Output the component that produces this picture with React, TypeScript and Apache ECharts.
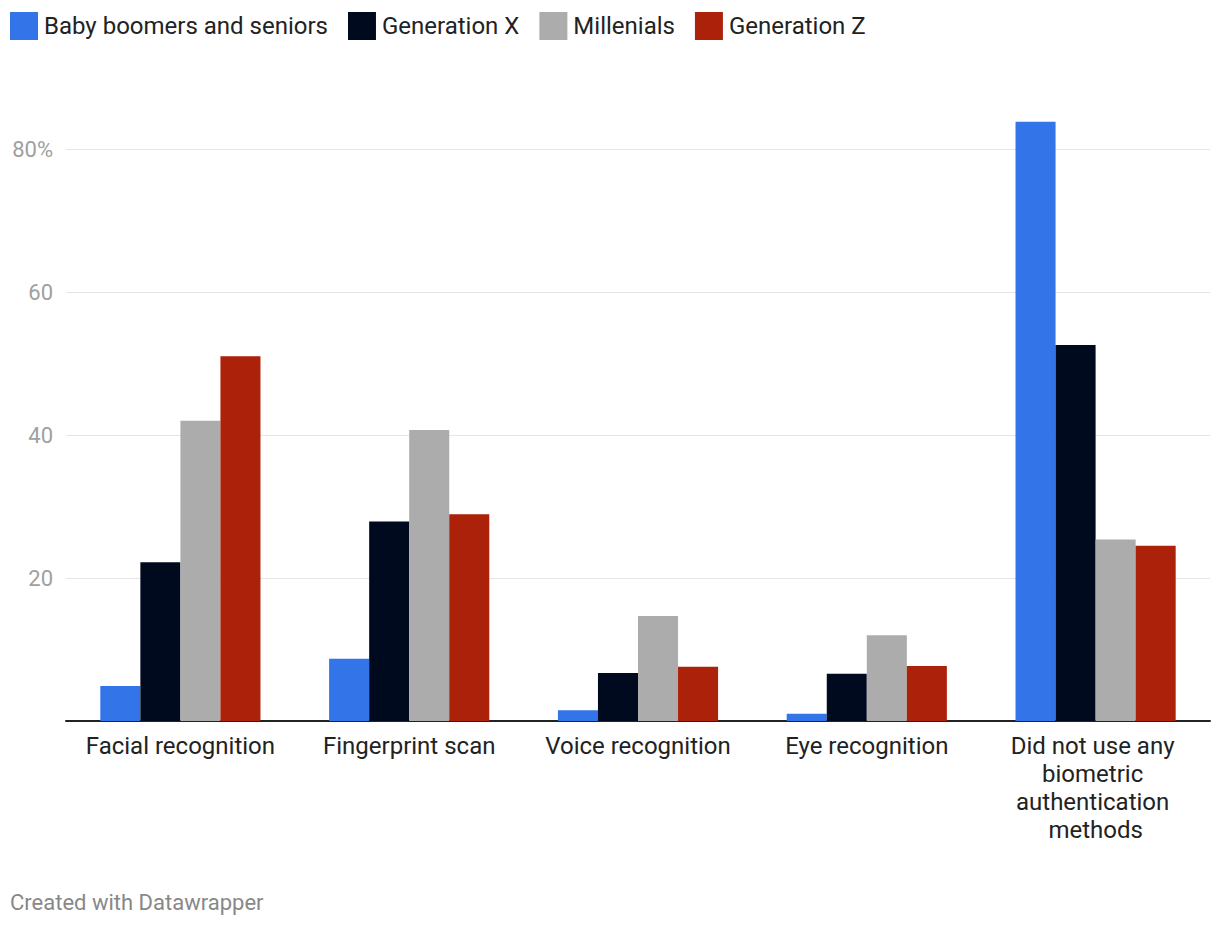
import React, { useEffect, useRef } from "react";
import * as echarts from "echarts";

const categories = [
  "Facial recognition",
  "Fingerprint scan",
  "Voice recognition",
  "Eye recognition",
  "Did not use any biometric authentication methods",
];
const seriesNames = ["Baby boomers and seniors", "Generation X", "Millenials", "Generation Z"];
const babyBoomers = [4.9, 8.7, 1.5, 1.0, 83.8];
const generationX = [22.2, 27.9, 6.7, 6.6, 52.6];
const millenials = [42.0, 40.7, 14.7, 12.0, 25.4];
const generationZ = [51.0, 28.9, 7.6, 7.7, 24.5];
const yTicks = [0, 20, 40, 60, 80];
const colors = ["#3375e9", "#000a1f", "#acacac", "#ac2109"];

export default function App() {
  const ref = useRef<HTMLDivElement>(null);
  useEffect(() => {
    document.body.style.margin = "0";
    if (!ref.current) return;
    const chart = echarts.init(ref.current, null, { renderer: "svg" });
    const values = [babyBoomers, generationX, millenials, generationZ];
    const font = "Roboto, 'Noto Sans', sans-serif";
    chart.setOption({
      animation: false,
      textStyle: { fontFamily: font },
      legend: {
        left: 10,
        top: 12,
        padding: 0,
        itemWidth: 28,
        itemHeight: 28,
        itemGap: 20,
        icon: "rect",
        textStyle: { fontSize: 24, color: "#222", fontFamily: font, padding: [0, 0, 0, 1] },
        data: seriesNames,
      },
      grid: { left: 66, right: 10, top: 149, bottom: 207, containLabel: false },
      xAxis: {
        type: "category",
        data: categories,
        axisTick: { show: false },
        axisLine: { lineStyle: { color: "#222", width: 2 } },
        axisLabel: {
          interval: 0,
          color: "#222",
          fontSize: 24,
          lineHeight: 28,
          margin: 11,
          width: 212,
          overflow: "break",
          fontFamily: font,
        },
      },
      yAxis: {
        type: "value",
        min: yTicks[0],
        max: yTicks[yTicks.length - 1],
        interval: 20,
        axisLine: { show: false },
        axisTick: { show: false },
        splitLine: { lineStyle: { color: "#e5e5e5", width: 1 } },
        axisLabel: {
          color: "#a0a0a0",
          fontSize: 22,
          margin: 13,
          fontFamily: font,
          formatter: (v: number) => (v === 0 ? "" : v === 80 ? "80%" : String(v)),
        },
      },
      series: seriesNames.map((name, i) => ({
        name,
        type: "bar",
        data: values[i],
        barGap: "0%",
        barCategoryGap: "30%",
        clip: false,
        itemStyle: { color: colors[i] },
      })),
      graphic: [
        {
          type: "text",
          left: 10,
          top: 891,
          style: { text: "Created with Datawrapper", fill: "#888", font: "22px Roboto, sans-serif" },
        },
      ],
    });
    return () => chart.dispose();
  }, []);
  return <div ref={ref} style={{ width: 1220, height: 928 }} />;
}
